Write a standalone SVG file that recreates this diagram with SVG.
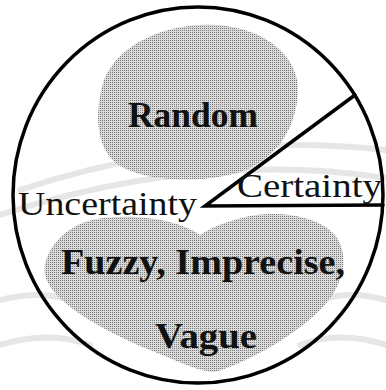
<svg xmlns="http://www.w3.org/2000/svg" width="386" height="390" viewBox="0 0 386 390">
  <style>
    .wm { fill: none; stroke: #e6e6e6; stroke-width: 6; stroke-linecap: round; }
    .blob { fill: url(#dots); stroke: none; }
    .line { fill: none; stroke: #000; stroke-width: 3.5; stroke-linecap: round; }
    .lbl { font-family: "Liberation Serif", "Times New Roman", serif; fill: #111; }
    .b { font-weight: bold; font-size: 36px; }
    .n { font-weight: normal; font-size: 33px; }
  </style>
  <defs>
    <pattern id="dots" width="2" height="2" patternUnits="userSpaceOnUse">
      <rect width="2" height="2" fill="#dadada"/>
      <rect width="1" height="1" fill="#7a7a7a"/>
    </pattern>
  </defs>
  <rect width="386" height="390" fill="#fff"/>
  <g id="watermark">
    <path class="wm" d="M 0 215 Q 200 150 386 178"/>
    <path class="wm" d="M 20 190 Q 200 130 386 150"/>
    <path class="wm" d="M 0 300 Q 40 290 70 300"/>
    <path class="wm" d="M 320 300 Q 350 290 386 300"/>
    <path class="wm" d="M 0 345 Q 50 330 90 345"/>
    <path class="wm" d="M 300 345 Q 340 330 386 345"/>
  </g>
  <g id="random-region">
    <path class="blob" d="M 200 25 C 260 22, 300 55, 298 92 C 296 130, 275 160, 240 172 C 205 183, 150 183, 120 166 C 95 150, 94 112, 104 80 C 118 45, 160 27, 200 25 Z"/>
    <text class="lbl b" x="128" y="127" textLength="130" lengthAdjust="spacingAndGlyphs">Random</text>
  </g>
  <g id="fuzzy-region">
    <path class="blob" d="M 200 235 C 180 220, 130 212, 92 220 C 60 228, 42 255, 45 275 C 50 300, 100 330, 150 350 C 180 362, 200 372, 215 372 C 240 365, 290 340, 320 310 C 345 285, 350 255, 335 235 C 315 213, 270 211, 245 217 C 225 222, 210 228, 200 235 Z"/>
    <text class="lbl b" x="61" y="274" textLength="284" lengthAdjust="spacingAndGlyphs">Fuzzy, Imprecise,</text>
    <text class="lbl b" x="155" y="348" textLength="102" lengthAdjust="spacingAndGlyphs">Vague</text>
  </g>
  <g id="connectors">
    <ellipse class="line" cx="198" cy="195" rx="185" ry="188"/>
    <polyline class="line" points="355,95 205,206 383,205"/>
  </g>
  <g id="uncertainty-label">
    <text class="lbl n" x="18" y="215" textLength="179" lengthAdjust="spacingAndGlyphs">Uncertainty</text>
  </g>
  <g id="certainty-label">
    <text class="lbl n" x="237" y="197" textLength="145" lengthAdjust="spacingAndGlyphs">Certainty</text>
  </g>
</svg>
